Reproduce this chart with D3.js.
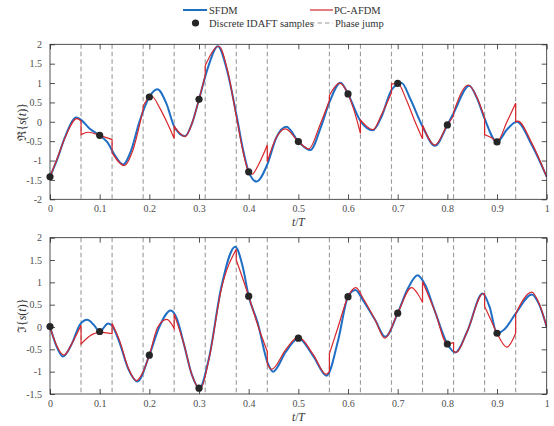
<!DOCTYPE html>
<html>
<head>
<meta charset="utf-8">
<script src="https://cdn.jsdelivr.net/npm/d3@7"></script>
<style>
body { margin: 0; background: #fff; }
text { font-family: "Liberation Serif", "DejaVu Serif", serif; }
</style>
</head>
<body>
<svg id="chart" width="554" height="426"></svg>
<script>
// ---- data ----
var xTicks = [0, 0.1, 0.2, 0.3, 0.4, 0.5, 0.6, 0.7, 0.8, 0.9, 1];
var yTicksRe = [-2, -1.5, -1, -0.5, 0, 0.5, 1, 1.5, 2];
var yTicksIm = [-1.5, -1, -0.5, 0, 0.5, 1, 1.5, 2];

// phase jumps of PC-AFDM (t/T)
var jumpT = [0.0625, 0.125, 0.1875, 0.25, 0.3125, 0.375, 0.4375,
             0.5625, 0.625, 0.6875, 0.75, 0.8125, 0.875, 0.9375];

// discrete IDAFT samples
var sampleT  = [0, 0.1, 0.2, 0.3, 0.4, 0.5, 0.6, 0.7, 0.8, 0.9];
var sampleRe = [-1.42, -0.35, 0.64, 0.58, -1.29, -0.51, 0.72, 0.99, -0.08, -0.52];
var sampleIm = [0.01, -0.1, -0.63, -1.37, 0.69, -0.25, 0.68, 0.31, -0.38, -0.14];

// SFDM, real part  [t/T, value]
var sfdmRe = [[0,-1.42],[0.015,-0.95],[0.03,-0.4],[0.053,0.11],[0.0625,0.05],[0.08,-0.18],
  [0.1,-0.35],[0.115,-0.52],[0.13,-0.85],[0.147,-1.1],[0.163,-0.75],[0.18,0.0],[0.2,0.64],
  [0.216,0.84],[0.235,0.45],[0.25,-0.12],[0.272,-0.37],[0.287,0.0],[0.3,0.58],[0.318,1.4],
  [0.338,1.95],[0.356,1.35],[0.375,0.2],[0.39,-0.8],[0.4,-1.29],[0.416,-1.54],[0.4375,-1.1],
  [0.456,-0.4],[0.476,-0.13],[0.5,-0.51],[0.524,-0.73],[0.545,-0.15],[0.5625,0.5],[0.585,1.01],
  [0.6,0.72],[0.625,0.02],[0.65,-0.22],[0.668,0.15],[0.6875,0.82],[0.708,1.0],[0.725,0.6],
  [0.75,-0.12],[0.775,-0.62],[0.8,-0.08],[0.8125,0.22],[0.844,0.93],[0.86,0.6],[0.875,0.08],
  [0.9,-0.52],[0.92,-0.2],[0.94,0.0],[0.97,-0.6],[1,-1.42]];

// PC-AFDM, real part (a repeated t marks a phase jump)
var pcRe = [[0,-1.42],[0.015,-0.93],[0.03,-0.42],[0.054,0.08],[0.0625,0.02],
  [0.0625,-0.33],[0.077,-0.27],[0.1,-0.35],[0.125,-0.46],
  [0.125,-0.8],[0.15,-1.13],[0.165,-0.8],[0.1875,0.33],
  [0.1875,0.4],[0.2,0.64],[0.205,0.66],[0.22,0.38],[0.235,0.0],[0.25,-0.43],
  [0.25,-0.12],[0.272,-0.38],[0.287,0.0],[0.3,0.58],[0.3125,1.2],
  [0.3125,1.45],[0.34,1.95],[0.357,1.35],[0.375,0.15],[0.39,-0.85],[0.4,-1.29],[0.407,-1.35],
  [0.42,-1.1],[0.4375,-0.6],
  [0.4375,-1.03],[0.455,-0.42],[0.474,-0.18],[0.5,-0.51],[0.521,-0.7],[0.543,-0.1],[0.5625,0.55],
  [0.5625,0.68],[0.583,1.0],[0.6,0.72],[0.612,0.3],[0.625,-0.3],
  [0.625,0.05],[0.65,-0.2],[0.668,0.2],[0.6875,0.75],
  [0.6875,0.97],[0.7,0.99],[0.718,0.55],[0.735,0.0],[0.75,-0.44],
  [0.75,-0.08],[0.775,-0.6],[0.8,-0.08],[0.8125,0.15],
  [0.8125,0.25],[0.842,0.95],[0.86,0.62],[0.875,0.1],
  [0.875,-0.33],[0.89,-0.42],[0.9,-0.51],[0.92,0.0],[0.9375,0.48],
  [0.9375,0.0],[0.942,0.02],[0.97,-0.55],[1,-1.42]];

// SFDM, imaginary part
var sfdmIm = [[0,0.01],[0.012,-0.4],[0.026,-0.66],[0.045,-0.35],[0.06,0.05],[0.075,0.16],
  [0.088,0.05],[0.1,-0.1],[0.117,0.08],[0.125,0.03],[0.14,-0.35],[0.158,-0.95],[0.176,-1.22],
  [0.2,-0.63],[0.22,0.0],[0.243,0.37],[0.255,0.2],[0.27,-0.4],[0.285,-1.05],[0.301,-1.37],
  [0.32,-0.7],[0.345,0.9],[0.373,1.8],[0.388,1.35],[0.4,0.69],[0.418,0.1],[0.4375,-0.78],
  [0.449,-1.0],[0.475,-0.55],[0.5,-0.25],[0.53,-0.65],[0.557,-1.09],[0.58,-0.3],[0.6,0.68],
  [0.615,0.83],[0.63,0.6],[0.655,0.15],[0.675,-0.22],[0.7,0.31],[0.72,0.85],[0.74,1.16],
  [0.755,0.95],[0.775,0.35],[0.8,-0.38],[0.816,-0.57],[0.84,-0.1],[0.871,0.75],[0.885,0.45],
  [0.9,-0.14],[0.915,-0.05],[0.9375,0.3],[0.97,0.73],[0.985,0.5],[1,0.0]];

// PC-AFDM, imaginary part
var pcIm = [[0,0.0],[0.012,-0.38],[0.028,-0.63],[0.045,-0.35],[0.0625,0.04],
  [0.0625,-0.38],[0.08,-0.2],[0.1,-0.12],[0.125,-0.15],
  [0.125,0.08],[0.14,-0.3],[0.157,-0.9],[0.174,-1.2],[0.1875,-1.0],[0.2,-0.63],[0.217,0.0],
  [0.235,0.17],[0.25,-0.03],
  [0.25,0.29],[0.27,-0.4],[0.285,-1.05],[0.3,-1.37],[0.303,-1.38],[0.32,-0.72],[0.345,0.85],
  [0.375,1.74],
  [0.375,1.5],[0.4,0.69],[0.418,0.05],[0.4375,-0.55],
  [0.4375,-0.83],[0.446,-0.95],[0.475,-0.5],[0.5,-0.22],[0.53,-0.62],[0.556,-1.06],[0.5625,-1.0],
  [0.5625,-0.6],[0.58,0.0],[0.6,0.68],[0.616,0.88],[0.63,0.65],[0.655,0.15],[0.674,-0.25],
  [0.7,0.31],[0.728,0.88],[0.74,0.75],[0.75,0.55],
  [0.75,1.02],[0.775,0.35],[0.8,-0.38],[0.8125,-0.35],
  [0.8125,-0.55],[0.818,-0.57],[0.84,-0.1],[0.872,0.75],[0.875,0.74],
  [0.875,0.46],[0.888,0.15],[0.9,-0.14],[0.92,-0.45],[0.9375,-0.14],
  [0.9375,0.3],[0.97,0.78],[0.985,0.52],[1,0.0]];

// ---- drawing ----
var blue = "#1f6fc5", red = "#d7262b";
var svg = d3.select("#chart");

// split a series into pieces wherever t repeats (phase jump)
function splitJumps(pts) {
    var segs = [[pts[0]]];
    for (var i = 1; i < pts.length; i++) {
        if (pts[i][0] === pts[i-1][0]) segs.push([]);
        segs[segs.length-1].push(pts[i]);
    }
    return segs;
}

function panel(top, bottom, yDomain, yTicks, blueData, redData, samples, yLabel) {
    var x = d3.scaleLinear().domain([0, 1]).range([50, 546.7]);
    var y = d3.scaleLinear().domain(yDomain).range([bottom, top]);
    var g = svg.append("g");
    var fmt = function(d) { return String(d); };

    var clipId = "clip" + Math.round(top);
    g.append("clipPath").attr("id", clipId).append("rect")
        .attr("x", x(0)).attr("y", top).attr("width", x(1) - x(0)).attr("height", bottom - top);

    // phase jump markers
    g.selectAll("line.jump").data(jumpT).enter().append("line")
        .attr("class", "jump")
        .attr("x1", function(d) { return x(d); }).attr("x2", function(d) { return x(d); })
        .attr("y1", top).attr("y2", bottom)
        .attr("stroke", "#9a9a9a").attr("stroke-width", 1.1)
        .attr("stroke-dasharray", "4.5,3");

    var line = d3.line()
        .x(function(d) { return x(d[0]); })
        .y(function(d) { return y(d[1]); })
        .curve(d3.curveMonotoneX);

    var curves = g.append("g").attr("clip-path", "url(#" + clipId + ")");
    curves.append("path").attr("d", line(blueData))
        .attr("fill", "none").attr("stroke", blue).attr("stroke-width", 2);

    // red: join the pieces with vertical steps
    var d = splitJumps(redData).map(function(seg, i) {
        var p = line(seg);
        return i === 0 ? p : "L" + p.slice(1);
    }).join("");
    curves.append("path").attr("d", d)
        .attr("fill", "none").attr("stroke", red).attr("stroke-width", 1.2);

    g.selectAll("circle").data(samples).enter().append("circle")
        .attr("cx", function(d) { return x(d[0]); })
        .attr("cy", function(d) { return y(d[1]); })
        .attr("r", 3.6).attr("fill", "#262626");

    // axes, MATLAB style: box with inward ticks
    function styleAxis(sel) {
        sel.select(".domain").remove();
        sel.selectAll(".tick line").attr("stroke", "#262626").attr("stroke-width", 0.8);
        sel.selectAll("text").attr("fill", "#4d4d4d").attr("font-size", 10)
            .style("font-family", "'Liberation Serif', serif");
    }
    g.append("g").attr("transform", "translate(0," + bottom + ")")
        .call(d3.axisBottom(x).tickValues(xTicks).tickFormat(fmt).tickSize(-5).tickPadding(6))
        .call(styleAxis);
    g.append("g").attr("transform", "translate(0," + top + ")")
        .call(d3.axisTop(x).tickValues(xTicks).tickFormat("").tickSize(-5))
        .call(styleAxis);
    g.append("g").attr("transform", "translate(" + x(0) + ",0)")
        .call(d3.axisLeft(y).tickValues(yTicks).tickFormat(fmt).tickSize(-5).tickPadding(8))
        .call(styleAxis);
    g.append("g").attr("transform", "translate(" + x(1) + ",0)")
        .call(d3.axisRight(y).tickValues(yTicks).tickFormat("").tickSize(-5))
        .call(styleAxis);
    g.append("rect")
        .attr("x", x(0)).attr("y", top).attr("width", x(1) - x(0)).attr("height", bottom - top)
        .attr("fill", "none").attr("stroke", "#262626").attr("stroke-width", 0.8);

    // x label t/T
    var xl = g.append("text").attr("x", (x(0) + x(1)) / 2).attr("y", bottom + 26.5)
        .attr("text-anchor", "middle").attr("font-size", 11.5).attr("fill", "#333");
    xl.append("tspan").attr("font-style", "italic").text("t");
    xl.append("tspan").text("/");
    xl.append("tspan").attr("font-style", "italic").text("T");

    // y label
    var yl = g.append("text")
        .attr("transform", "translate(26," + ((top + bottom) / 2) + ") rotate(-90)")
        .attr("text-anchor", "middle").attr("font-size", 12).attr("fill", "#333");
    yl.append("tspan").text(yLabel + "{");
    yl.append("tspan").attr("font-style", "italic").text("s");
    yl.append("tspan").text("(");
    yl.append("tspan").attr("font-style", "italic").text("t");
    yl.append("tspan").text(")}");
}

panel(44.3, 199.3, [-2, 2], yTicksRe, sfdmRe, pcRe,
      sampleT.map(function(t, i) { return [t, sampleRe[i]]; }), "\u211C");
panel(237.7, 394, [-1.5, 2], yTicksIm, sfdmIm, pcIm,
      sampleT.map(function(t, i) { return [t, sampleIm[i]]; }), "\u2111");

// legend
var leg = svg.append("g").attr("font-size", 10.5).attr("fill", "#333");
leg.append("line").attr("x1", 183).attr("x2", 207).attr("y1", 10).attr("y2", 10)
    .attr("stroke", blue).attr("stroke-width", 2);
leg.append("text").attr("x", 209).attr("y", 13.5).text("SFDM");
leg.append("line").attr("x1", 310).attr("x2", 333).attr("y1", 10).attr("y2", 10)
    .attr("stroke", red).attr("stroke-width", 1.2);
leg.append("text").attr("x", 334).attr("y", 13.5).text("PC-AFDM");
leg.append("circle").attr("cx", 195.5).attr("cy", 23).attr("r", 3.6).attr("fill", "#262626");
leg.append("text").attr("x", 209).attr("y", 26.5).text("Discrete IDAFT samples");
leg.append("line").attr("x1", 310).attr("x2", 333).attr("y1", 23).attr("y2", 23)
    .attr("stroke", "#9a9a9a").attr("stroke-width", 1.1).attr("stroke-dasharray", "4.5,3");
leg.append("text").attr("x", 335).attr("y", 26.5).text("Phase jump");
</script>
</body>
</html>
